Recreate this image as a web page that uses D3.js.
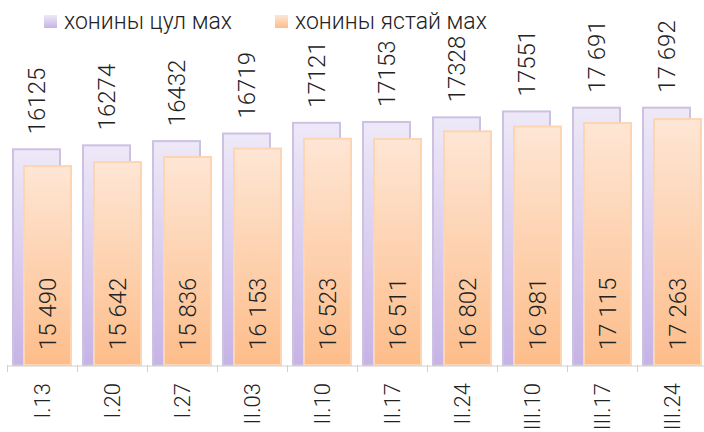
<!DOCTYPE html>
<html><head><meta charset="utf-8">
<script src="https://cdn.jsdelivr.net/npm/d3@7"></script>
<style>body{margin:0;background:#fff}svg{display:block;font-family:"Roboto Light","Lato Light",Roboto,"Noto Sans",sans-serif;font-weight:300}</style>
</head><body><svg id="c" width="704" height="432"></svg>
<script>
const categories = ["I.13","I.20","I.27","II.03","II.10","II.17","II.24","III.10","III.17","III.24"];
const seriesNames = ["хонины цул мах","хонины ястай мах"];
const valuesA = [16125,16274,16432,16719,17121,17153,17328,17551,17691,17692];
const valuesB = [15490,15642,15836,16153,16523,16511,16802,16981,17115,17263];
const labelsA = ["16125","16274","16432","16719","17121","17153","17328","17551","17 691","17 692"];
const labelsB = ["15 490","15 642","15 836","16 153","16 523","16 511","16 802","16 981","17 115","17 263"];
const yDomain = [8000, 20000];

const svg = d3.select("#c");
const defs = svg.append("defs");
function grad(id, top, bottom){
  const g = defs.append("linearGradient").attr("id",id).attr("x1",0).attr("y1",0).attr("x2",0).attr("y2",1);
  g.append("stop").attr("offset","0%").attr("stop-color",top);
  g.append("stop").attr("offset","100%").attr("stop-color",bottom);
}
grad("gA","#eee9f8","#c6b3e5");
grad("gB","#fee6d5","#fdbd8a");

const x = d3.scaleBand().domain(categories).range([7,707]).paddingInner(0).paddingOuter(0);
const y = d3.scaleLinear().domain(yDomain).range([365, 46.4]);
const bw = 49, off = 11, pad = 5;

const g = svg.append("g");
g.selectAll("rect.a").data(valuesA).enter().append("rect")
  .attr("x",(d,i)=>x(categories[i])+pad+1)
  .attr("y",d=>y(d)).attr("width",bw-2).attr("height",d=>y(yDomain[0])-y(d))
  .attr("fill","url(#gA)").attr("stroke","#cdc1e2").attr("stroke-width",2);
g.selectAll("rect.b").data(valuesB).enter().append("rect")
  .attr("x",(d,i)=>x(categories[i])+pad+off+1)
  .attr("y",d=>y(d)).attr("width",bw-2).attr("height",d=>y(yDomain[0])-y(d))
  .attr("fill","url(#gB)").attr("stroke","#fdd5b2").attr("stroke-width",2);

const ax = d3.axisBottom(x).tickSize(0).tickFormat("");
const axg = svg.append("g").attr("transform","translate(0,365.5)").call(ax);
axg.select(".domain").attr("stroke","#d0d0d0");
svg.append("g").selectAll("line").data(categories).enter().append("line")
  .attr("x1",d=>x(d)+0.5).attr("x2",d=>x(d)+0.5).attr("y1",365).attr("y2",372)
  .attr("stroke","#d0d0d0");

svg.append("g").selectAll("text").data(categories).enter().append("text")
  .attr("transform",d=>`translate(${x(d)+x.bandwidth()/2+8},383) rotate(-90)`)
  .attr("text-anchor","end").attr("font-size",22).attr("fill","#222")
  .text(d=>d);

svg.append("g").selectAll("text").data(valuesA).enter().append("text")
  .attr("transform",(d,i)=>`translate(${x(categories[i])+pad+bw/2+8},${y(d)-15}) rotate(-90)`)
  .attr("text-anchor","start").attr("font-size",24).attr("fill","#222")
  .text((d,i)=>labelsA[i]);
svg.append("g").selectAll("text").data(valuesB).enter().append("text")
  .attr("transform",(d,i)=>`translate(${x(categories[i])+pad+off+bw/2+8},350) rotate(-90)`)
  .attr("text-anchor","start").attr("font-size",24).attr("fill","#222")
  .text((d,i)=>labelsB[i]);

const leg = svg.append("g");
const lx = [44, 275];
const lfill = ["url(#gA)","url(#gB)"];
seriesNames.forEach((n,i)=>{
  leg.append("rect").attr("x",lx[i]).attr("y",15).attr("width",13).attr("height",13).attr("fill",lfill[i]);
  leg.append("text").attr("x",lx[i]+20).attr("y",29).attr("font-size",23).attr("fill","#222").text(n);
});
</script></body></html>
